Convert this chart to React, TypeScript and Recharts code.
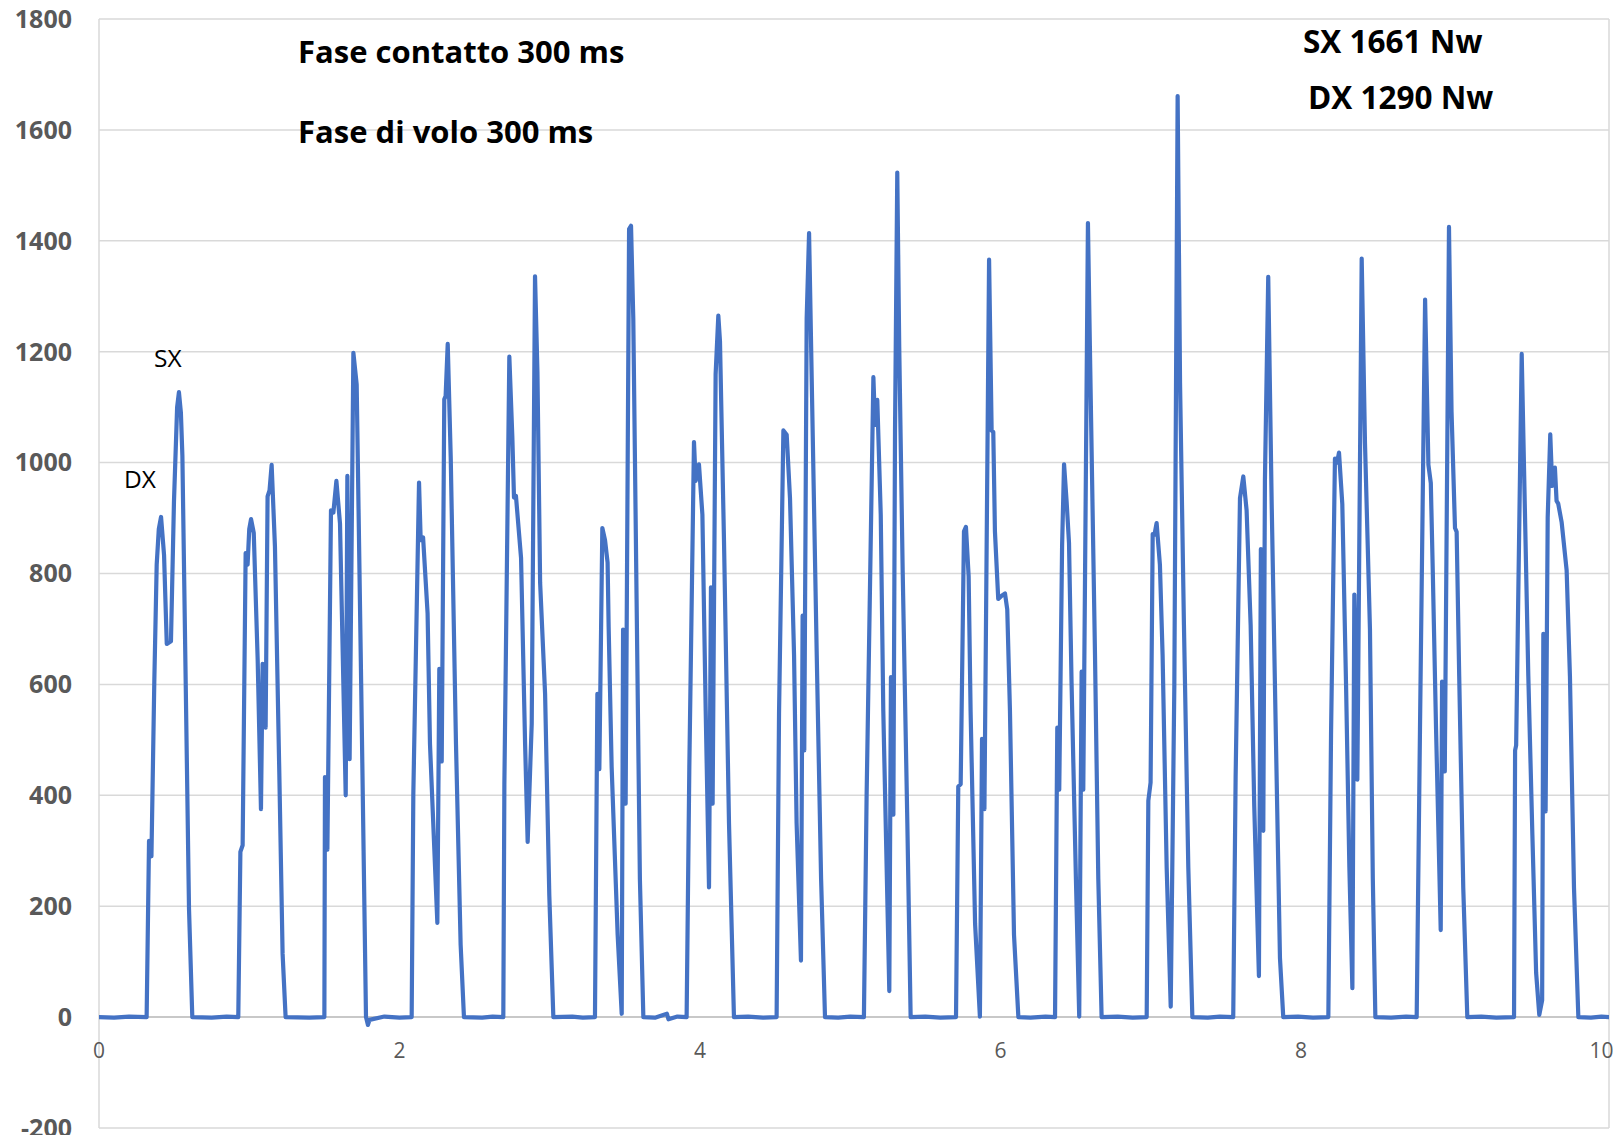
import { LineChart, Line, XAxis, YAxis, CartesianGrid, ReferenceLine, ReferenceDot } from "recharts";

// Force (N) against time (s), one block of samples per ground contact.
const step01 = [[0.317, 0], [0.333, 318], [0.349, 290], [0.368, 604], [0.384, 816], [0.398, 880], [0.413, 902], [0.433, 833], [0.451, 673], [0.479, 678], [0.499, 930], [0.52, 1100], [0.532, 1127], [0.545, 1090], [0.555, 1012], [0.577, 604], [0.599, 196], [0.621, 0]];
const step02 = [[0.927, 0], [0.941, 298], [0.956, 310], [0.976, 837], [0.989, 816], [1.0, 880], [1.012, 898], [1.03, 873], [1.056, 645], [1.078, 375], [1.089, 637], [1.109, 522], [1.122, 939], [1.135, 950], [1.149, 996], [1.171, 849], [1.2, 441], [1.222, 114], [1.242, 0]];
const step03 = [[1.5, 0], [1.504, 433], [1.52, 302], [1.544, 914], [1.56, 910], [1.58, 967], [1.604, 890], [1.642, 400], [1.653, 976], [1.668, 465], [1.693, 1198], [1.715, 1141], [1.745, 600], [1.777, 0], [1.79, -14], [1.8, -5]];
const step04 = [[2.081, 0], [2.092, 402], [2.13, 964], [2.141, 860], [2.157, 865], [2.187, 728], [2.203, 492], [2.252, 170], [2.265, 628], [2.281, 461], [2.298, 1114], [2.307, 1120], [2.321, 1214], [2.341, 1009], [2.376, 492], [2.407, 130], [2.429, 0]];
const step05 = [[2.691, 0], [2.698, 420], [2.731, 1191], [2.751, 1046], [2.762, 937], [2.775, 940], [2.809, 828], [2.836, 492], [2.853, 316], [2.88, 529], [2.902, 1336], [2.918, 1164], [2.936, 783], [2.969, 583], [2.997, 220], [3.024, 0]];
const step06 = [[3.301, 0], [3.317, 583], [3.33, 447], [3.35, 882], [3.368, 860], [3.385, 820], [3.392, 704], [3.412, 451], [3.452, 148], [3.479, 6], [3.488, 699], [3.505, 385], [3.528, 1421], [3.541, 1427], [3.556, 1260], [3.578, 754], [3.6, 249], [3.623, 0]];
const step07 = [[3.911, 0], [3.929, 451], [3.96, 1037], [3.971, 967], [3.993, 997], [4.016, 906], [4.038, 552], [4.06, 234], [4.073, 775], [4.084, 385], [4.104, 1159], [4.122, 1265], [4.133, 1219], [4.16, 855], [4.193, 350], [4.226, 0]];
const step08 = [[4.51, 0], [4.526, 547], [4.555, 1058], [4.577, 1050], [4.599, 936], [4.626, 653], [4.643, 350], [4.672, 102], [4.683, 724], [4.694, 481], [4.71, 1260], [4.726, 1414], [4.743, 1159], [4.777, 653], [4.806, 249], [4.832, 0]];
const step09 = [[5.091, 0], [5.109, 400], [5.154, 1154], [5.165, 1068], [5.18, 1113], [5.203, 906], [5.22, 552], [5.26, 47], [5.271, 613], [5.287, 365], [5.298, 1058], [5.313, 1523], [5.326, 1209], [5.349, 805], [5.38, 350], [5.402, 0]];
const step10 = [[5.704, 0], [5.719, 416], [5.735, 420], [5.757, 876], [5.77, 884], [5.788, 795], [5.801, 552], [5.831, 168], [5.863, 1], [5.877, 502], [5.893, 375], [5.924, 1366], [5.941, 1058], [5.952, 1055], [5.963, 876], [5.985, 754], [6.008, 760], [6.03, 764], [6.045, 735], [6.063, 552], [6.09, 148], [6.119, 0]];
const step11 = [[6.363, 0], [6.378, 522], [6.391, 410], [6.41, 850], [6.423, 997], [6.44, 930], [6.456, 855], [6.473, 603], [6.502, 249], [6.524, 1], [6.54, 623], [6.551, 410], [6.582, 1432], [6.595, 1209], [6.629, 653], [6.651, 249], [6.673, 0]];
const step12 = [[6.973, 0], [6.984, 390], [6.999, 423], [7.013, 871], [7.025, 870], [7.039, 891], [7.061, 816], [7.079, 652], [7.106, 270], [7.133, 19], [7.157, 598], [7.179, 1661], [7.195, 1144], [7.221, 707], [7.25, 270], [7.277, 0]];
const step13 = [[7.549, 0], [7.565, 434], [7.594, 936], [7.616, 975], [7.638, 914], [7.665, 707], [7.689, 380], [7.72, 74], [7.733, 844], [7.749, 336], [7.76, 969], [7.782, 1335], [7.805, 925], [7.834, 489], [7.86, 107], [7.882, 0]];
const step14 = [[8.182, 0], [8.2, 510], [8.226, 1007], [8.24, 1000], [8.253, 1018], [8.275, 925], [8.3, 598], [8.322, 270], [8.342, 52], [8.355, 762], [8.375, 428], [8.404, 1368], [8.426, 1035], [8.459, 700], [8.478, 250], [8.495, 0]];
const step15 = [[8.77, 0], [8.792, 519], [8.826, 1294], [8.848, 996], [8.864, 963], [8.877, 806], [8.899, 519], [8.93, 157], [8.939, 605], [8.957, 443], [8.985, 1425], [9.002, 1092], [9.025, 882], [9.036, 875], [9.053, 615], [9.08, 233], [9.107, 0]];
const step16 = [[9.418, 0], [9.425, 481], [9.432, 490], [9.469, 1196], [9.484, 996], [9.513, 615], [9.54, 329], [9.565, 80], [9.586, 4], [9.605, 30], [9.613, 691], [9.628, 371], [9.642, 901], [9.659, 1051], [9.672, 958], [9.69, 991], [9.701, 931], [9.712, 926], [9.735, 892], [9.768, 806], [9.79, 615], [9.817, 233], [9.846, 0]];

// flight phases: the plate reads close to zero
const flight = [[0, 0], [0.1, -1], [0.2, 1], [0.75, -1], [0.85, 1], [1.4, -1], [1.9, 1], [2.0, -1], [2.55, -1], [2.62, 1], [3.15, 1], [3.22, -1], [3.7, -1], [3.78, 6], [3.79, -4], [3.85, 1], [4.32, 1], [4.42, -1], [4.92, -1], [5.0, 1], [5.5, 1], [5.6, -1], [6.2, -1], [6.3, 1], [6.78, 1], [6.88, -1], [7.38, -1], [7.46, 1], [7.98, 1], [8.08, -1], [8.6, -1], [8.7, 1], [9.2, 1], [9.3, -1], [9.93, -1], [10.0, 1], [10.05, 0]];

const xTicks = [0, 2, 4, 6, 8, 10];
const yTicks = [-200, 0, 200, 400, 600, 800, 1000, 1200, 1400, 1600, 1800];

const data = [flight, step01, step02, step03, step04, step05, step06, step07, step08, step09, step10, step11, step12, step13, step14, step15, step16]
  .flat()
  .sort((a, b) => a[0] - b[0])
  .map(([t, force]) => ({ t, force }));

const FONT = "'Open Sans', sans-serif";

const XTickLabel = (props: any) => (
  <text x={props.cx} y={props.cy + 33} textAnchor="middle" dominantBaseline="central" fontFamily={FONT} fontSize={21} fill="#595959">
    {props.label}
  </text>
);

export default function App() {
  return (
    <div style={{ position: "relative", width: 1621, height: 1143, margin: -8 }}>
      <LineChart width={1621} height={1143} data={data} margin={{ top: 19, right: 12, bottom: 15, left: 0 }}>
        <CartesianGrid stroke="#D9D9D9" strokeWidth={1.5} />
        <XAxis type="number" dataKey="t" domain={[0, 10.05]} ticks={xTicks} height={0} tick={false} axisLine={false} tickLine={false} allowDataOverflow />
        <YAxis
          type="number"
          domain={[-200, 1800]}
          ticks={yTicks}
          interval={0}
          width={99}
          axisLine={false}
          tickLine={false}
          tickSize={0}
          tickMargin={27}
          tick={{ fontFamily: FONT, fontSize: 25, fontWeight: 700, fill: "#595959" }}
        />
        <ReferenceLine y={0} stroke="#BFBFBF" strokeWidth={1.5} />
        {xTicks.map((t) => (
          <ReferenceDot key={t} x={t} y={0} r={0} shape={(p: any) => <XTickLabel {...p} label={String(t)} />} />
        ))}
        <Line type="linear" dataKey="force" stroke="#4472C4" strokeWidth={4.2} strokeLinejoin="round" strokeLinecap="round" dot={false} isAnimationActive={false} />
      </LineChart>
      <svg width={1621} height={1143} style={{ position: "absolute", left: 0, top: 0, pointerEvents: "none" }}>
        <g fontFamily={FONT} fontWeight={700} fontSize={31} fill="#000">
          <text x={298} y={63}>Fase contatto 300 ms</text>
          <text x={298} y={143}>Fase di volo 300 ms</text>
          <text x={1303} y={53} fontSize={31.5}>SX 1661 Nw</text>
          <text x={1308} y={109} fontSize={31.5}>DX 1290 Nw</text>
        </g>
        <g fontFamily={FONT} fontSize={24.5} fill="#000">
          <text x={154} y={367}>SX</text>
          <text x={124} y={488}>DX</text>
        </g>
      </svg>
    </div>
  );
}
